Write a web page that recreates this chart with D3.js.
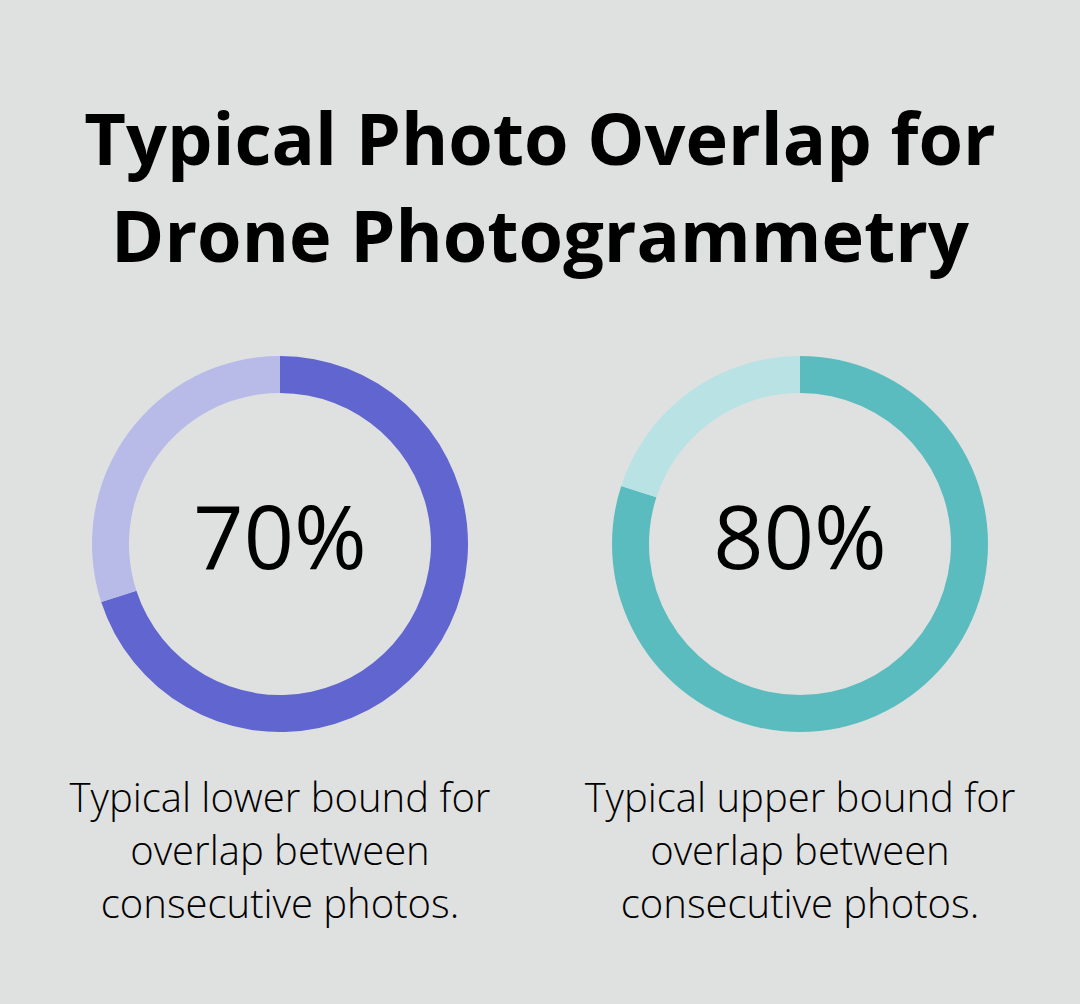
<!DOCTYPE html>
<html>
<head>
<meta charset="utf-8">
<script src="https://cdn.jsdelivr.net/npm/d3@7"></script>
<style>
html,body{margin:0;padding:0;background:#dfe1e0;}
svg{display:block;}
</style>
</head>
<body>
<svg id="chart" width="1080" height="1004"></svg>
<script>
const titleLines = ["Typical Photo Overlap for", "Drone Photogrammetry"];
const percentValues = [70, 80];
const valueLabels = ["70%", "80%"];
const captions = [
  ["Typical lower bound for", "overlap between", "consecutive photos."],
  ["Typical upper bound for", "overlap between", "consecutive photos."]
];
const mainColors = ["#6065cf", "#5bbcbf"];
const restColors = ["#b8bbe8", "#b8e2e4"];

const W = 1080, H = 1004;
const svg = d3.select("#chart");
svg.append("rect").attr("width", W).attr("height", H).attr("fill", "#dfe1e0");

svg.append("g").selectAll("text").data(titleLines).join("text")
  .attr("x", 540)
  .attr("y", (d, i) => 165 + i * 97)
  .attr("text-anchor", "middle")
  .attr("font-family", "'Open Sans', sans-serif")
  .attr("font-weight", 700)
  .attr("font-size", 72)
  .attr("fill", "#000")
  .text(d => d);

const x = d3.scalePoint().domain(d3.range(percentValues.length)).range([280, 800]);
const cy = 544;
const outerR = 188, innerR = 151;
const pie = d3.pie().sort(null).value(d => d);
const arc = d3.arc().innerRadius(innerR).outerRadius(outerR);

percentValues.forEach((v, i) => {
  const g = svg.append("g").attr("transform", `translate(${x(i)},${cy})`);
  g.selectAll("path").data(pie([v, 100 - v])).join("path")
    .attr("d", arc)
    .attr("fill", (d, j) => j === 0 ? mainColors[i] : restColors[i]);
  g.append("text")
    .attr("x", 0).attr("y", 25)
    .attr("text-anchor", "middle")
    .attr("font-family", "'Open Sans', sans-serif")
    .attr("font-weight", 400)
    .attr("font-size", 88)
    .attr("fill", "#000")
    .text(valueLabels[i]);
  svg.append("g").selectAll("text").data(captions[i]).join("text")
    .attr("x", x(i))
    .attr("y", (d, k) => 812 + k * 53)
    .attr("text-anchor", "middle")
    .attr("font-family", "'Open Sans', sans-serif")
    .attr("font-weight", 300)
    .attr("font-size", 40)
    .attr("fill", "#000")
    .text(d => d);
});
</script>
</body>
</html>
